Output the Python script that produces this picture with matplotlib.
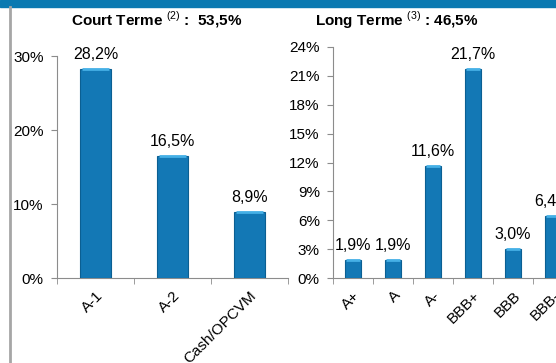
import matplotlib.pyplot as plt
from matplotlib.patches import Rectangle
from matplotlib.lines import Line2D
import numpy as np

plt.rcParams['font.family'] = ['Liberation Sans', 'DejaVu Sans']
plt.rcParams['mathtext.fontset'] = 'custom'
plt.rcParams['mathtext.rm'] = 'Liberation Sans'

# donnees
court_cat = ['A-1', 'A-2', 'Cash/OPCVM']
court_val = [28.2, 16.5, 8.9]
court_lbl = ['28,2%', '16,5%', '8,9%']

long_cat = ['A+', 'A', 'A-', 'BBB+', 'BBB', 'BBB-']
long_val = [1.9, 1.9, 11.6, 21.7, 3.0, 6.4]
long_lbl = ['1,9%', '1,9%', '11,6%', '21,7%', '3,0%', '6,4%']

BLEU = '#1378b5'
BORD = '#0b5f92'
CLAIR = '#45b0e6'
GRIS = '#8c8c8c'
FS = 11

fig = plt.figure(figsize=(5.56, 3.63), dpi=100)

# bandeau bleu en haut + trait gris a gauche
fig.patches.append(Rectangle((0, 1 - 7 / 363), 1, 7 / 363, transform=fig.transFigure,
                             color='#0a79b1', zorder=0))
fig.lines.append(Line2D([9.5 / 556, 9.5 / 556], [0, 1 - 7 / 363], transform=fig.transFigure,
                        color='#a6a6a6', lw=2))

fig.text(157 / 556, 1 - 20 / 363, 'Court Terme $^{(2)}$ :  53,5%', ha='center', va='center',
         fontsize=11, fontweight='bold')
fig.text(397 / 556, 1 - 20 / 363, 'Long Terme $^{(3)}$ : 46,5%', ha='center', va='center',
         fontsize=11, fontweight='bold')


def panneau(ax, cats, vals, lbls, ymax, pas):
    x = np.arange(len(cats))
    ax.bar(x, vals, width=0.4, color=BLEU, edgecolor=BORD, linewidth=0.8, zorder=3)
    # liseré clair en haut des barres
    ax.hlines(vals, x - 0.17, x + 0.17, color=CLAIR, lw=2, zorder=4)
    for xi, v, l in zip(x, vals, lbls):
        ax.annotate(l, (xi, v), xytext=(0, 5), textcoords='offset points',
                    ha='center', va='bottom', fontsize=11.5, annotation_clip=False)
    ax.set_xlim(-0.5, len(cats) - 0.5)
    ax.set_ylim(0, ymax)
    ax.set_yticks(np.arange(0, ymax + 0.1, pas))
    ax.set_yticklabels(['%d%%' % t for t in np.arange(0, ymax + 0.1, pas)], fontsize=FS)
    ax.set_xticks(x)
    ax.set_xticklabels(cats, rotation=45, ha='right', rotation_mode='anchor', fontsize=FS)
    ax.set_xticks(np.arange(-0.5, len(cats)), minor=True)
    ax.tick_params(axis='x', which='major', length=0, pad=7.5)
    ax.tick_params(axis='x', which='minor', length=4, color=GRIS, direction='out')
    ax.tick_params(axis='y', length=4, color=GRIS, pad=5.5)
    for s in ['top', 'right']:
        ax.spines[s].set_visible(False)
    for s in ['left', 'bottom']:
        ax.spines[s].set_color(GRIS)
    ax.patch.set_alpha(0)


ax1 = fig.add_axes([57 / 556, 85 / 363, 231 / 556, 222 / 363])
panneau(ax1, court_cat, court_val, court_lbl, 30, 10)

ax2 = fig.add_axes([333 / 556, 85 / 363, 240 / 556, 231 / 363])
panneau(ax2, long_cat, long_val, long_lbl, 24, 3)

plt.savefig('out.png', dpi=100)
